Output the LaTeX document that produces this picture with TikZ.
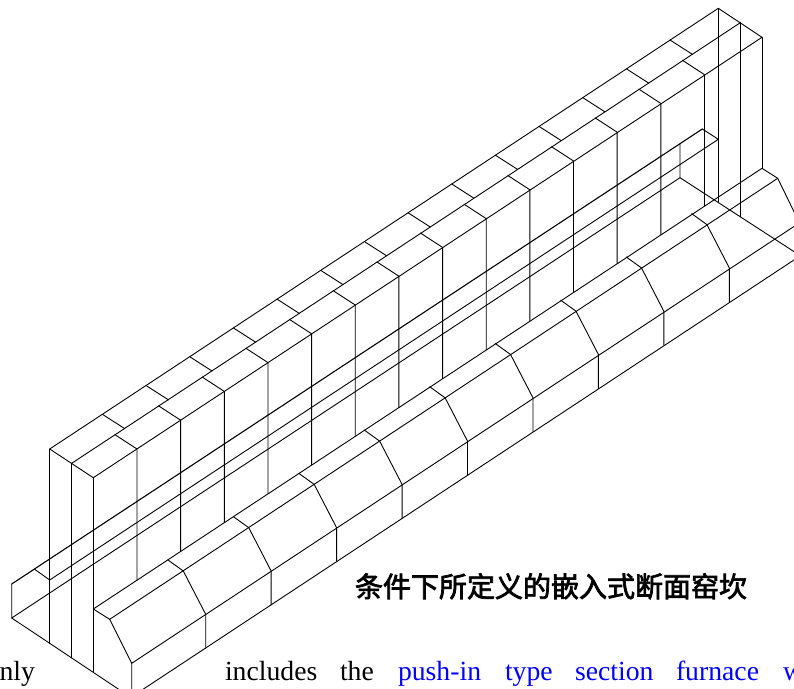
\documentclass[tikz,border=0pt]{standalone}
\usepackage{fontspec}
\setmainfont{Liberation Serif}
\newfontfamily\cjk[FakeBold=2.6]{Noto Sans CJK SC}
\definecolor{linkblue}{RGB}{0,0,255}
\tikzset{
  wire/.style={line width=0.9pt,black,line join=round,line cap=round},
  word/.style={anchor=base west,inner sep=0pt,outer sep=0pt,font=\fontsize{27.7}{30}\selectfont},
  linkword/.style={word,text=linkblue},
  title/.style={anchor=base west,inner sep=0pt,outer sep=0pt,font=\cjk\fontsize{28}{32}\selectfont}
}
\begin{document}
\begin{tikzpicture}[x=1pt,y=-1pt]
\useasboundingbox (0,0) rectangle (794,688);
\begin{scope}
\clip (0,0) rectangle (794,688);
% wall top, long edges
\draw[wire] (49.7,449) -- (718.3,8.3) -- (762,37.3) -- (93.3,477.7) -- cycle;
\draw[wire] (71.7,463.3) -- (740.3,22.7);
% end verticals of the wall
\draw[wire] (49.7,449) -- (49.7,643.3);
\draw[wire] (71.7,463.3) -- (71.7,658);
\draw[wire] (93.3,477.7) -- (93.3,672.7);
\draw[wire] (718.3,8.3) -- (718.3,202);
\draw[wire] (740.3,22.7) -- (740.3,216.7);
\draw[wire] (762,37.3) -- (762,168.3);
% wall blocks
\foreach \k in {0,...,13}{
  \begin{scope}[shift={(43.65*\k,-28.8*\k)}]
    \draw[wire] (115,434.7) -- (137,449) -- (137,580.2);
    \draw[wire] (102.55,414.4) -- (124.85,428.7);
  \end{scope}
}
% groove and base plate
\draw[wire,line width=1.1pt] (702.3,129) -- (11.7,584);
\draw[wire] (11.7,584) -- (11.7,618) -- (680,177.7) -- (680,143.7);
\draw[wire] (34.7,569.3) -- (49.7,580) -- (718.3,139.3) -- (702.3,129);
\draw[wire] (11.7,618) -- (146,707.5);
\draw[wire] (680,177.7) -- (800,255.5);
% ledge
\draw[wire] (93.3,609) -- (762,168.3) -- (777.7,178.3) -- (800,224);
\draw[wire] (93.3,609) -- (109.7,619.3) -- (131.7,663.3) -- (131.7,700);
\draw[wire] (109.7,619.3) -- (777.7,178.3);
\draw[wire] (131.7,663.3) -- (800,222.5);
\draw[wire] (120,704.5) -- (800,256);
\foreach \k in {0,...,8}{
  \begin{scope}[shift={(65.45*\k,-43.3*\k)}]
    \draw[wire] (168,560) -- (183.3,571) -- (205.7,614.3) -- (205.7,648.3);
  \end{scope}
}
\end{scope}
% texts
\node[title] (caption) at (355,597) {条件下所定义的嵌入式断面窑坎};
\node[word] (w1) at (-0.4,680) {nly};
\node[word] (w2) at (225,680) {includes};
\node[word] (w3) at (340,680) {the};
\node[linkword] (w4) at (398,680) {push-in};
\node[linkword] (w5) at (505,680) {type};
\node[linkword] (w6) at (575,680) {section};
\node[linkword] (w7) at (676,680) {furnace};
\node[linkword] (w8) at (783,680) {w};
\end{tikzpicture}
\end{document}
